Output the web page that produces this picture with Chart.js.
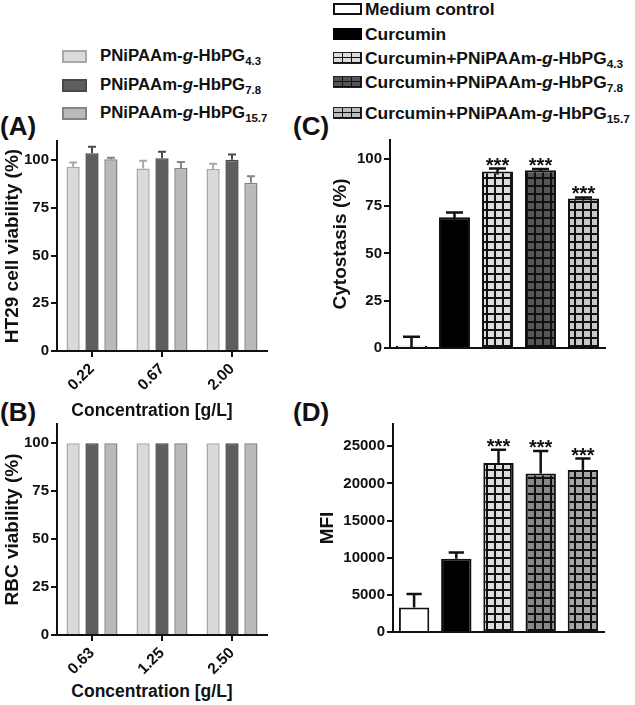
<!DOCTYPE html>
<html>
<head>
<meta charset="utf-8">
<script src="https://cdn.jsdelivr.net/npm/chart.js@4.4.0/dist/chart.umd.min.js"></script>
<style>
  body { margin: 0; background: #fff; }
  #page { position: relative; width: 635px; height: 705px; overflow: hidden;
          font-family: "Liberation Sans", Arial, sans-serif; font-weight: bold; color: #111; }
  canvas { position: absolute; }
  .panel { position: absolute; font-size: 26px; line-height: 26px; }
  .xtitle { position: absolute; left: 0; width: 304px; text-align: center; font-size: 17.5px; line-height: 20px; }
  .row { position: absolute; height: 20px; line-height: 20px; white-space: nowrap; }
  .sw { position: absolute; box-sizing: border-box; }
  .row span.t { position: absolute; top: 0; }
  sub { font-size: 0.68em; vertical-align: -0.35em; line-height: 0; }
  .grid { border: 1.5px solid #222;
          background-image: linear-gradient(#111 1.5px, transparent 1.5px), linear-gradient(90deg, #111 1.5px, transparent 1.5px);
          background-size: 9px 5px; background-position: -1px -1px; }
</style>
</head>
<body>
<div id="page">
  <!-- legend for A/B -->
  <div class="row" style="top:46px;left:62px;width:230px;font-size:16.8px">
    <div class="sw" style="left:0;top:3.5px;width:25px;height:13px;background:#dadada;border:2px solid #a8a8a8"></div>
    <span class="t" style="left:38px">PNiPAAm-<i>g</i>-HbPG<sub>4.3</sub></span>
  </div>
  <div class="row" style="top:75px;left:62px;width:230px;font-size:16.8px">
    <div class="sw" style="left:0;top:3.5px;width:25px;height:13px;background:#5e5e5e;border:2px solid #4a4a4a"></div>
    <span class="t" style="left:38px">PNiPAAm-<i>g</i>-HbPG<sub>7.8</sub></span>
  </div>
  <div class="row" style="top:103px;left:62px;width:230px;font-size:16.8px">
    <div class="sw" style="left:0;top:3.5px;width:25px;height:13px;background:#bababa;border:2px solid #848484"></div>
    <span class="t" style="left:38px">PNiPAAm-<i>g</i>-HbPG<sub>15.7</sub></span>
  </div>

  <!-- legend for C/D -->
  <div class="row" style="top:-1px;left:333px;width:302px;font-size:17.4px">
    <div class="sw" style="left:0;top:4px;width:29px;height:12px;background:#fff;border:2px solid #111"></div>
    <span class="t" style="left:32px">Medium control</span>
  </div>
  <div class="row" style="top:23.5px;left:333px;width:302px;font-size:17.4px">
    <div class="sw" style="left:0;top:4px;width:29px;height:12px;background:#000;border:2px solid #000"></div>
    <span class="t" style="left:32px">Curcumin</span>
  </div>
  <div class="row" style="top:47.5px;left:333px;width:302px;font-size:17.4px">
    <div class="sw grid" style="left:0;top:4px;width:29px;height:12px;background-color:#dcdcdc"></div>
    <span class="t" style="left:32px">Curcumin+PNiPAAm-<i>g</i>-HbPG<sub>4.3</sub></span>
  </div>
  <div class="row" style="top:72px;left:333px;width:302px;font-size:17.4px">
    <div class="sw grid" style="left:0;top:4px;width:29px;height:12px;background-color:#555"></div>
    <span class="t" style="left:32px">Curcumin+PNiPAAm-<i>g</i>-HbPG<sub>7.8</sub></span>
  </div>
  <div class="row" style="top:102.5px;left:333px;width:302px;font-size:17.4px">
    <div class="sw grid" style="left:0;top:4px;width:29px;height:12px;background-color:#bdbdbd"></div>
    <span class="t" style="left:32px">Curcumin+PNiPAAm-<i>g</i>-HbPG<sub>15.7</sub></span>
  </div>

  <div class="panel" style="left:0;top:113px">(A)</div>
  <div class="panel" style="left:293px;top:113px">(C)</div>
  <div class="panel" style="left:0;top:399px">(B)</div>
  <div class="panel" style="left:293px;top:399px">(D)</div>

  <canvas id="chartA" width="285" height="260" style="left:0;top:130px"></canvas>
  <canvas id="chartB" width="285" height="265" style="left:0;top:413px"></canvas>
  <canvas id="chartC" width="300" height="230" style="left:318px;top:129px"></canvas>
  <canvas id="chartD" width="300" height="230" style="left:318px;top:413px"></canvas>

  <div class="xtitle" style="top:400px">Concentration [g/L]</div>
  <div class="xtitle" style="top:681px">Concentration [g/L]</div>
</div>

<script>
'use strict';

// DATA
const concHT29 = ['0.22', '0.67', '2.00'];
const concRBC = ['0.63', '1.25', '2.50'];
const polymerNames = ['PNiPAAm-g-HbPG4.3', 'PNiPAAm-g-HbPG7.8', 'PNiPAAm-g-HbPG15.7'];

// HT29 viability (%) + error (up only)
const ht29_43 = [96.5, 95.6, 95.3];
const ht29_78 = [103.6, 100.9, 100.2];
const ht29_157 = [100.4, 95.8, 88.1];
const ht29Err_43 = [2.3, 4.1, 2.8];
const ht29Err_78 = [3.4, 3.5, 2.7];
const ht29Err_157 = [0.8, 3.2, 3.4];

// RBC viability (%)
const rbc_43 = [100, 100, 100];
const rbc_78 = [100, 100, 100];
const rbc_157 = [100, 100, 100];

const treatments = ['Medium control', 'Curcumin', 'Curcumin+PNiPAAm-g-HbPG4.3',
  'Curcumin+PNiPAAm-g-HbPG7.8', 'Curcumin+PNiPAAm-g-HbPG15.7'];
const cytostasis = [1.2, 69.2, 93.3, 94.0, 79.1];
const cytostasisErr = [4.8, 2.4, 1.6, 0.6, 0.5];
const mfi = [3300, 9850, 22750, 21350, 21800];
const mfiErr = [1800, 850, 1800, 3000, 1550];
const significance = ['', '', '***', '***', '***'];

const pctTicks = [0, 25, 50, 75, 100];
const mfiTicks = [0, 5000, 10000, 15000, 20000, 25000];

// SETUP
Chart.defaults.font.family = '"Liberation Sans", Arial, sans-serif';
Chart.defaults.color = '#111';
Chart.defaults.animation = false;
Chart.defaults.plugins.legend.display = false;
Chart.defaults.plugins.tooltip.enabled = false;

function gridPattern(fill) {
  let c = document.createElement('canvas');
  c.width = 8; c.height = 8;
  let g = c.getContext('2d');
  g.fillStyle = fill;
  g.fillRect(0, 0, 8, 8);
  g.fillStyle = '#111';
  g.fillRect(0, 0, 8, 2);
  g.fillRect(0, 0, 2, 8);
  return g.createPattern(c, 'repeat');
}

// error bars + stars drawn from the data through the y scale
const errorBars = {
  id: 'errorBars',
  afterDatasetsDraw(chart, args, opts) {
    let ctx = chart.ctx;
    let yScale = chart.scales.y;
    chart.data.datasets.forEach((ds, i) => {
      let meta = chart.getDatasetMeta(i);
      meta.data.forEach((bar, j) => {
        let v = ds.data[j];
        let e = ds.errors ? ds.errors[j] : 0;
        let top = yScale.getPixelForValue(v + e);
        if (e) {
          let bottom = opts.both ? yScale.getPixelForValue(Math.max(v - e, 0)) : bar.y;
          let half = bar.width * opts.cap / 2;
          ctx.save();
          ctx.strokeStyle = ds.errorColor || '#111';
          ctx.lineWidth = opts.lineWidth;
          ctx.beginPath();
          ctx.moveTo(bar.x, bottom);
          ctx.lineTo(bar.x, top);
          ctx.moveTo(bar.x - half, top);
          ctx.lineTo(bar.x + half, top);
          ctx.stroke();
          ctx.restore();
        }
        if (opts.stars && opts.stars[j]) {
          ctx.save();
          ctx.fillStyle = '#111';
          ctx.font = 'bold 20px "Liberation Sans", Arial, sans-serif';
          ctx.textAlign = 'center';
          ctx.textBaseline = 'alphabetic';
          ctx.fillText(opts.stars[j], bar.x, top + 3);
          ctx.restore();
        }
      });
    });
  }
};

function yScale(tickValues, max, title, titlePad, width) {
  return {
    min: 0,
    max: max,
    afterFit: s => { s.width = width; },
    afterBuildTicks: s => { s.ticks = tickValues.map(v => ({ value: v })); },
    ticks: { color: '#111', font: { size: 15, weight: 'bold' }, padding: 2,
      callback: v => String(v) },
    grid: { drawOnChartArea: false, drawTicks: true, tickLength: 6, color: '#111', lineWidth: 2 },
    border: { color: '#111', width: 2 },
    title: { display: true, text: title, color: '#111',
      font: { size: 19, weight: 'bold', lineHeight: 1 }, padding: { top: titlePad, bottom: 0 } }
  };
}

function xScaleConc(labels, height) {
  return {
    type: 'category',
    labels: labels,
    afterFit: s => { s.height = height; },
    ticks: { color: '#111', font: { size: 15.5, weight: 'bold' }, maxRotation: 45, minRotation: 45, padding: 3 },
    grid: { offset: false, drawOnChartArea: false, drawTicks: true, tickLength: 6, color: '#111', lineWidth: 2 },
    border: { color: '#111', width: 2 }
  };
}

function xScalePlain(height) {
  return {
    type: 'category',
    afterFit: s => { s.height = height; },
    ticks: { display: false },
    grid: { display: false, drawTicks: false },
    border: { color: '#111', width: 2 }
  };
}

const polyFill = ['#dadada', '#5e5e5e', '#bababa'];
const polyBorder = ['#a8a8a8', '#4a4a4a', '#848484'];

function polyDatasets(values, errs) {
  return values.map((vals, k) => ({
    label: polymerNames[k],
    data: vals,
    errors: errs ? errs[k] : null,
    errorColor: polyBorder[k],
    backgroundColor: polyFill[k],
    borderColor: polyBorder[k],
    borderWidth: 1.5,
    borderSkipped: 'start',
    categoryPercentage: 0.81,
    barPercentage: 0.7
  }));
}

// PANEL A
new Chart(document.getElementById('chartA'), {
  type: 'bar',
  data: {
    labels: concHT29,
    datasets: polyDatasets([ht29_43, ht29_78, ht29_157], [ht29Err_43, ht29Err_78, ht29Err_157])
  },
  options: {
    responsive: false,
    devicePixelRatio: 1,
    layout: { padding: { top: 10, right: 18, left: 0, bottom: 0 } },
    scales: {
      x: xScaleConc(concHT29, 39),
      y: yScale(pctTicks, 110, 'HT29 cell viability (%)', 3, 57)
    },
    plugins: { errorBars: { both: false, cap: 0.6, lineWidth: 2 } }
  },
  plugins: [errorBars]
});

// PANEL B
new Chart(document.getElementById('chartB'), {
  type: 'bar',
  data: {
    labels: concRBC,
    datasets: polyDatasets([rbc_43, rbc_78, rbc_157], null)
  },
  options: {
    responsive: false,
    devicePixelRatio: 1,
    layout: { padding: { top: 10, right: 18, left: 0, bottom: 0 } },
    scales: {
      x: xScaleConc(concRBC, 43),
      y: yScale(pctTicks, 110, 'RBC viability (%)', 3, 57)
    },
    plugins: { errorBars: { both: false, cap: 0.6, lineWidth: 2 } }
  },
  plugins: [errorBars]
});

// PANEL C
new Chart(document.getElementById('chartC'), {
  type: 'bar',
  data: {
    labels: treatments,
    datasets: [{
      label: 'Cytostasis',
      data: cytostasis,
      errors: cytostasisErr,
      backgroundColor: ['#ffffff', '#000000', gridPattern('#dcdcdc'), gridPattern('#555555'), gridPattern('#c8c8c8')],
      borderColor: '#111',
      borderWidth: 2,
      borderSkipped: 'start',
      categoryPercentage: 1,
      barPercentage: 0.72
    }]
  },
  options: {
    responsive: false,
    devicePixelRatio: 1,
    layout: { padding: { top: 10, right: 13, left: 0, bottom: 0 } },
    scales: {
      x: xScalePlain(8),
      y: yScale(pctTicks, 110, 'Cytostasis (%)', 13, 72)
    },
    plugins: { errorBars: { both: true, cap: 0.55, lineWidth: 2.5, stars: significance } }
  },
  plugins: [errorBars]
});

// PANEL D
new Chart(document.getElementById('chartD'), {
  type: 'bar',
  data: {
    labels: treatments,
    datasets: [{
      label: 'MFI',
      data: mfi,
      errors: mfiErr,
      backgroundColor: ['#ffffff', '#000000', gridPattern('#dcdcdc'), gridPattern('#888888'), gridPattern('#a6a6a6')],
      borderColor: '#111',
      borderWidth: 2,
      borderSkipped: 'start',
      categoryPercentage: 1,
      barPercentage: 0.72
    }]
  },
  options: {
    responsive: false,
    devicePixelRatio: 1,
    layout: { padding: { top: 10, right: 14, left: 0, bottom: 0 } },
    scales: {
      x: xScalePlain(10),
      y: yScale(mfiTicks, 28000, 'MFI', 0, 75)
    },
    plugins: { errorBars: { both: false, cap: 0.5, lineWidth: 2.5, stars: significance } }
  },
  plugins: [errorBars]
});
</script>
</body>
</html>
